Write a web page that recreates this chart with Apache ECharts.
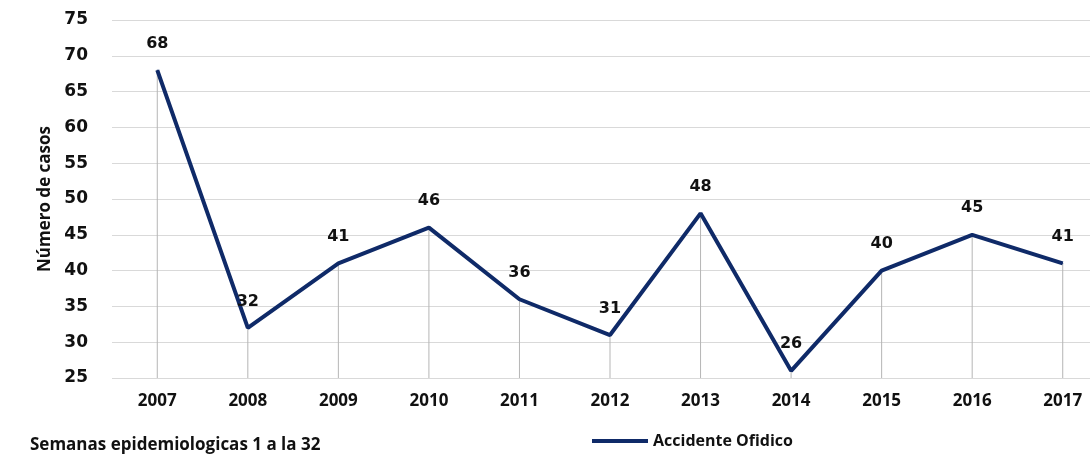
<!DOCTYPE html>
<html>
<head>
<meta charset="utf-8">
<script src="https://cdn.jsdelivr.net/npm/echarts@6/dist/echarts.min.js"></script>
<style>
  html, body { margin: 0; padding: 0; background: #fff; overflow: hidden; }
  /* el área del gráfico sobrepasa el borde derecho, como en el original */
  #chart { width: 1110px; height: 460px; }
</style>
</head>
<body>
<div id="chart"></div>
<script>
// datos
const years = ['2007', '2008', '2009', '2010', '2011', '2012', '2013', '2014', '2015', '2016', '2017'];
const casos = [68, 32, 41, 46, 36, 31, 48, 26, 40, 45, 41];
const serieNombre = 'Accidente Ofidico';

const lineColor = '#0f2a68';
const gridColor = '#d9d9d9';
const textColor = '#111';

const chart = echarts.init(document.getElementById('chart'));

const option = {
  backgroundColor: '#fff',
  animation: false,
  graphic: [
    {
      type: 'text',
      left: 30,
      top: 437,
      style: {
        text: 'Semanas epidemiologicas 1 a la 32',
        font: 'bold 17px "Open Sans", sans-serif',
        fill: textColor
      }
    }
  ],
  legend: {
    data: [{ name: serieNombre, icon: 'rect' }],
    left: 587,
    top: 428,
    itemWidth: 56,
    itemHeight: 4,
    itemGap: 4,
    textStyle: {
      color: textColor,
      fontSize: 16,
      fontWeight: 'bold',
      fontFamily: '"Open Sans", sans-serif'
    }
  },
  grid: {
    left: 112,
    right: 2,
    top: 20,
    bottom: 82,
    containLabel: false
  },
  xAxis: {
    type: 'category',
    data: years,
    boundaryGap: true,
    axisLine: { show: false },
    axisTick: { show: false },
    axisLabel: {
      color: textColor,
      fontSize: 17,
      fontWeight: 'bold',
      fontFamily: '"Open Sans", sans-serif',
      margin: 15
    }
  },
  yAxis: {
    type: 'value',
    min: 25,
    max: 75,
    interval: 5,
    name: 'Número de casos',
    nameLocation: 'middle',
    nameGap: 58,
    nameTextStyle: {
      color: textColor,
      fontSize: 17,
      fontWeight: 'bold',
      fontFamily: '"Open Sans", sans-serif'
    },
    axisLine: { show: false },
    axisTick: { show: false },
    axisLabel: {
      color: textColor,
      fontSize: 17,
      fontWeight: 'bold',
      fontFamily: '"DejaVu Sans", sans-serif',
      margin: 24
    },
    splitLine: { lineStyle: { color: gridColor, width: 1 } }
  },
  series: [
    {
      // líneas de caída desde cada punto hasta el eje
      name: 'drop',
      type: 'bar',
      data: casos,
      barWidth: 1,
      silent: true,
      itemStyle: { color: '#b5b5b5' },
      z: 1
    },
    {
      name: serieNombre,
      type: 'line',
      data: casos,
      symbol: 'circle',
      symbolSize: 1,
      showSymbol: true,
      lineStyle: { color: lineColor, width: 4 },
      itemStyle: { color: lineColor },
      label: {
        show: true,
        position: 'top',
        distance: 18,
        color: textColor,
        fontSize: 16,
        fontWeight: 'bold',
        fontFamily: '"DejaVu Sans", sans-serif'
      },
      z: 3
    }
  ]
};

chart.setOption(option);
</script>
</body>
</html>
